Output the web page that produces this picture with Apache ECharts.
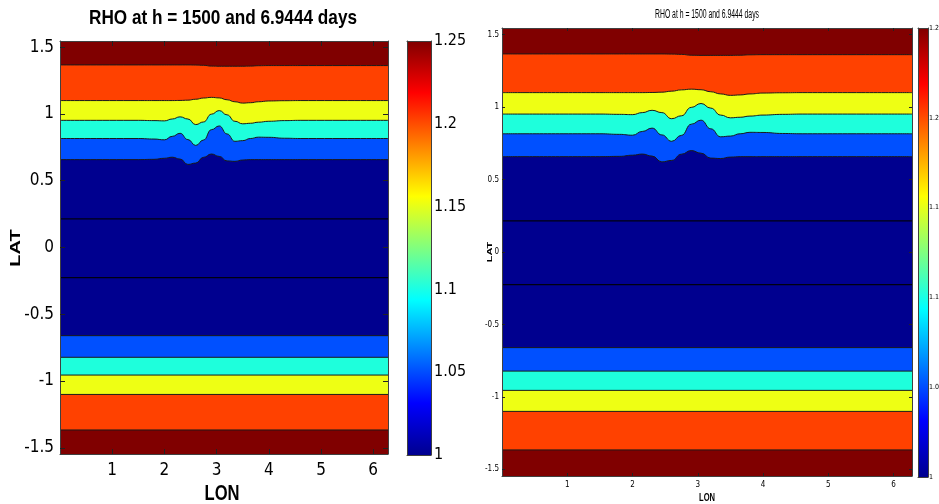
<!DOCTYPE html>
<html><head><meta charset="utf-8">
<script src="https://cdn.jsdelivr.net/npm/echarts@6/dist/echarts.min.js"></script>
<style>html,body{margin:0;padding:0;background:#fff}#c{width:939px;height:504px}</style>
</head><body><div id="c"></div>
<script>
// ---------------- data ----------------
const TITLE = 'RHO at h = 1500 and 6.9444 days';
const X_NAME = 'LON';
const Y_NAME = 'LAT';
const lonRange = [0, 6.2832];
const latRange = [-1.546, 1.546];
const lonTicks = [1, 2, 3, 4, 5, 6];
const latTicks = [-1.5, -1, -0.5, 0, 0.5, 1, 1.5];
const cbTicks = [1, 1.05, 1.1, 1.15, 1.2, 1.25];
const cbRange = [1, 1.25];
// contour boundaries in the northern hemisphere (lat of each level vs lon)
const lonKnots        = [0, 1.5, 1.8, 2.0, 2.15, 2.3, 2.45, 2.6, 2.75, 2.9, 3.05, 3.2, 3.35, 3.5, 3.65, 3.8, 4.0, 4.3, 4.6, 6.2832];
const latRedOrange    = [1.367,1.367,1.367,1.367,1.367,1.367,1.367,1.366,1.364,1.358,1.357,1.357,1.357,1.357,1.358,1.361,1.362,1.362,1.362,1.362];
const latOrangeYellow = [1.100,1.100,1.100,1.100,1.100,1.101,1.103,1.110,1.119,1.124,1.120,1.106,1.091,1.081,1.084,1.091,1.097,1.099,1.100,1.100];
const latYellowCyan   = [0.952,0.952,0.950,0.948,0.962,0.978,0.962,0.920,0.940,0.998,1.025,0.993,0.945,0.926,0.930,0.938,0.945,0.950,0.952,0.952];
const latCyanBlue     = [0.816,0.816,0.812,0.806,0.832,0.855,0.808,0.764,0.805,0.882,0.910,0.850,0.795,0.800,0.816,0.826,0.825,0.818,0.816,0.816];
const latBlueNavy     = [0.658,0.658,0.660,0.668,0.676,0.662,0.622,0.632,0.675,0.700,0.682,0.648,0.645,0.655,0.658,0.658,0.658,0.658,0.658,0.658];
// contour lines inside the lowest band
const latInner = [0.215, -0.225];
// contour boundaries in the southern hemisphere (flat)
const latSouth = [-0.660, -0.822, -0.955, -1.100, -1.366];

// ---------------- styles ----------------
const C = { darkred:'#800000', orange:'#FF4100', yellow:'#EEFF14', cyan:'#1EFFDC', blue:'#0050FF', navy:'#00008F' };
const northFill = [C.orange, C.yellow, C.cyan, C.blue, C.navy];
const southFill = [C.blue, C.cyan, C.yellow, C.orange, C.darkred];
const jetStops = [
  {offset:0, color:'#00008F'},{offset:0.125, color:'#0000FF'},{offset:0.375, color:'#00FFFF'},
  {offset:0.625, color:'#FFFF00'},{offset:0.875, color:'#FF0000'},{offset:1, color:'#800000'}];

function hasFont(f){
  const c=document.createElement('canvas').getContext('2d');
  c.font='20px monospace'; const a=c.measureText('abcdefLAT1.25 RHO').width;
  c.font='20px "'+f+'", monospace'; return c.measureText('abcdefLAT1.25 RHO').width!==a;
}
const narrow = ['Liberation Sans Narrow','Arial Narrow','DejaVu Sans Condensed'].find(hasFont);
const TICKFONT = narrow ? '"'+narrow+'"' : '"Liberation Sans", Arial, sans-serif';
const TXTFONT = '"Liberation Sans", Arial, sans-serif';
function textW(txt, font){const c=document.createElement('canvas').getContext('2d'); c.font=font; return c.measureText(txt).width;}

const panels = [
  {plot:{left:60, top:41, width:328, height:413}, cb:{left:407, top:41, width:24, height:414},
   tick:17, cbFont:16, tickLen:5, yMargin:6, xMargin:8, cbMargin:3,
   title:{x:223, y:18, size:21, bold:true, w:268}, lon:{x:222, y:494, size:22, w:35}, lat:{x:16.5, y:248, size:20, th:0.7}},
  {plot:{left:502, top:28, width:410, height:448}, cb:{left:918, top:28, width:10, height:449},
   tick:8, cbFont:7, tickLen:3, yMargin:3, xMargin:5, cbMargin:1,
   title:{x:707, y:15, size:12, bold:false, w:104}, lon:{x:707, y:498, size:10, w:16}, lat:{x:490, y:252, size:11, th:0.65}}
];

const grid=[], xAxis=[], yAxis=[], series=[], graphic=[];
const axColor = '#404040';
panels.forEach((p, pi) => {
  const gPlot = grid.length; grid.push(Object.assign({show:true, backgroundColor:C.darkred, borderWidth:0, outerBoundsMode:'none', containLabel:false}, p.plot));
  const gCb = grid.length; grid.push(Object.assign({show:false, outerBoundsMode:'none', containLabel:false}, p.cb));
  const tickStyle = {inside:true, length:p.tickLen, lineStyle:{color:'#222', width:1}};
  const lbl = {color:'#000', fontFamily:TICKFONT, fontSize:p.tick};
  // main axes
  const xi = xAxis.length;
  xAxis.push({type:'value', gridIndex:gPlot, position:'bottom', min:lonRange[0], max:lonRange[1], z:10,
    axisLine:{show:true, onZero:false, lineStyle:{color:axColor}}, splitLine:{show:false},
    axisTick:Object.assign({customValues:lonTicks}, tickStyle),
    axisLabel:Object.assign({customValues:lonTicks, margin:p.xMargin}, lbl)});
  xAxis.push({type:'value', gridIndex:gPlot, position:'top', min:lonRange[0], max:lonRange[1], z:10,
    axisLine:{show:true, onZero:false, lineStyle:{color:axColor}}, splitLine:{show:false},
    axisTick:Object.assign({customValues:lonTicks}, tickStyle), axisLabel:{show:false}});
  const yi = yAxis.length;
  yAxis.push({type:'value', gridIndex:gPlot, position:'left', min:latRange[0], max:latRange[1], z:10,
    axisLine:{show:true, onZero:false, lineStyle:{color:axColor}}, splitLine:{show:false},
    axisTick:Object.assign({customValues:latTicks}, tickStyle),
    axisLabel:Object.assign({customValues:latTicks, margin:p.yMargin}, lbl)});
  yAxis.push({type:'value', gridIndex:gPlot, position:'right', min:latRange[0], max:latRange[1], z:10,
    axisLine:{show:true, onZero:false, lineStyle:{color:axColor}}, splitLine:{show:false},
    axisTick:Object.assign({customValues:latTicks}, tickStyle), axisLabel:{show:false}});
  // colorbar axes
  const cxi = xAxis.length;
  xAxis.push({type:'category', gridIndex:gCb, data:['cb'], position:'bottom', z:10,
    axisLine:{show:true, lineStyle:{color:axColor}}, axisTick:{show:false}, axisLabel:{show:false}});
  xAxis.push({type:'category', gridIndex:gCb, data:['cb'], position:'top', z:10,
    axisLine:{show:true, lineStyle:{color:axColor}}, axisTick:{show:false}, axisLabel:{show:false}});
  const cyi = yAxis.length;
  yAxis.push({type:'value', gridIndex:gCb, position:'right', min:cbRange[0], max:cbRange[1], z:10,
    axisLine:{show:true, lineStyle:{color:axColor}}, splitLine:{show:false},
    axisTick:Object.assign({customValues:cbTicks}, tickStyle, {length:Math.max(2,p.tickLen-1)}),
    axisLabel:{customValues:cbTicks, margin:p.cbMargin, color:'#000', fontFamily:TICKFONT, fontSize:p.cbFont}});
  yAxis.push({type:'value', gridIndex:gCb, position:'left', min:cbRange[0], max:cbRange[1], z:10,
    axisLine:{show:true, lineStyle:{color:axColor}}, splitLine:{show:false},
    axisTick:Object.assign({customValues:cbTicks}, tickStyle, {length:Math.max(2,p.tickLen-1)}),
    axisLabel:{show:false}});

  // filled contour bands
  const base = {type:'line', xAxisIndex:xi, yAxisIndex:yi, showSymbol:false, symbol:'none', smooth:0.5,
    smoothMonotone:'x', silent:true, animation:false, lineStyle:{color:'#1a1a1a', width:1}};
  const north = [latRedOrange, latOrangeYellow, latYellowCyan, latCyanBlue, latBlueNavy];
  north.forEach((arr, k) => {
    series.push(Object.assign({}, base, {data:lonKnots.map((x, i) => [x, arr[i]]),
      areaStyle:{color:northFill[k], opacity:1, origin:'start'}}));
  });
  latInner.forEach(v => {
    series.push(Object.assign({}, base, {smooth:false, lineStyle:{color:'#000010', width:1.2},
      data:[[lonRange[0], v], [lonRange[1], v]]}));
  });
  latSouth.forEach((v, k) => {
    series.push(Object.assign({}, base, {smooth:false, data:[[lonRange[0], v], [lonRange[1], v]],
      areaStyle:{color:southFill[k], opacity:1, origin:'start'}}));
  });
  // colorbar
  series.push({type:'bar', xAxisIndex:cxi, yAxisIndex:cyi, stack:'cb'+pi, barWidth:'100%', silent:true,
    animation:false, data:[cbRange[0]], itemStyle:{color:'rgba(0,0,0,0)'}});
  series.push({type:'bar', xAxisIndex:cxi, yAxisIndex:cyi, stack:'cb'+pi, barWidth:'100%', silent:true,
    animation:false, data:[cbRange[1]-cbRange[0]],
    itemStyle:{color:new echarts.graphic.LinearGradient(0,1,0,0, jetStops)}});

  // texts
  const tf = (p.title.bold?'bold ':'') + p.title.size + 'px ' + TXTFONT;
  graphic.push({type:'text', x:p.title.x, y:p.title.y, scaleX:p.title.w/textW(TITLE, tf), silent:true,
    style:{text:TITLE, font:tf, fill:'#000', align:'center', verticalAlign:'middle', textAlign:'center', textVerticalAlign:'middle'}});
  const lf = 'bold ' + p.lon.size + 'px ' + TXTFONT;
  graphic.push({type:'text', x:p.lon.x, y:p.lon.y, scaleX:p.lon.w/textW(X_NAME, lf), silent:true,
    style:{text:X_NAME, font:lf, fill:'#000', align:'center', verticalAlign:'middle', textAlign:'center', textVerticalAlign:'middle'}});
  const af = 'bold ' + p.lat.size + 'px ' + TXTFONT;
  graphic.push({type:'text', x:p.lat.x, y:p.lat.y, rotation:Math.PI/2, scaleY:p.lat.th, silent:true,
    style:{text:Y_NAME, font:af, fill:'#000', align:'center', verticalAlign:'middle', textAlign:'center', textVerticalAlign:'middle'}});
});

const chart = echarts.init(document.getElementById('c'), null, {renderer:'canvas'});
chart.setOption({backgroundColor:'#fff', animation:false, grid, xAxis, yAxis, series, graphic});
</script></body></html>
